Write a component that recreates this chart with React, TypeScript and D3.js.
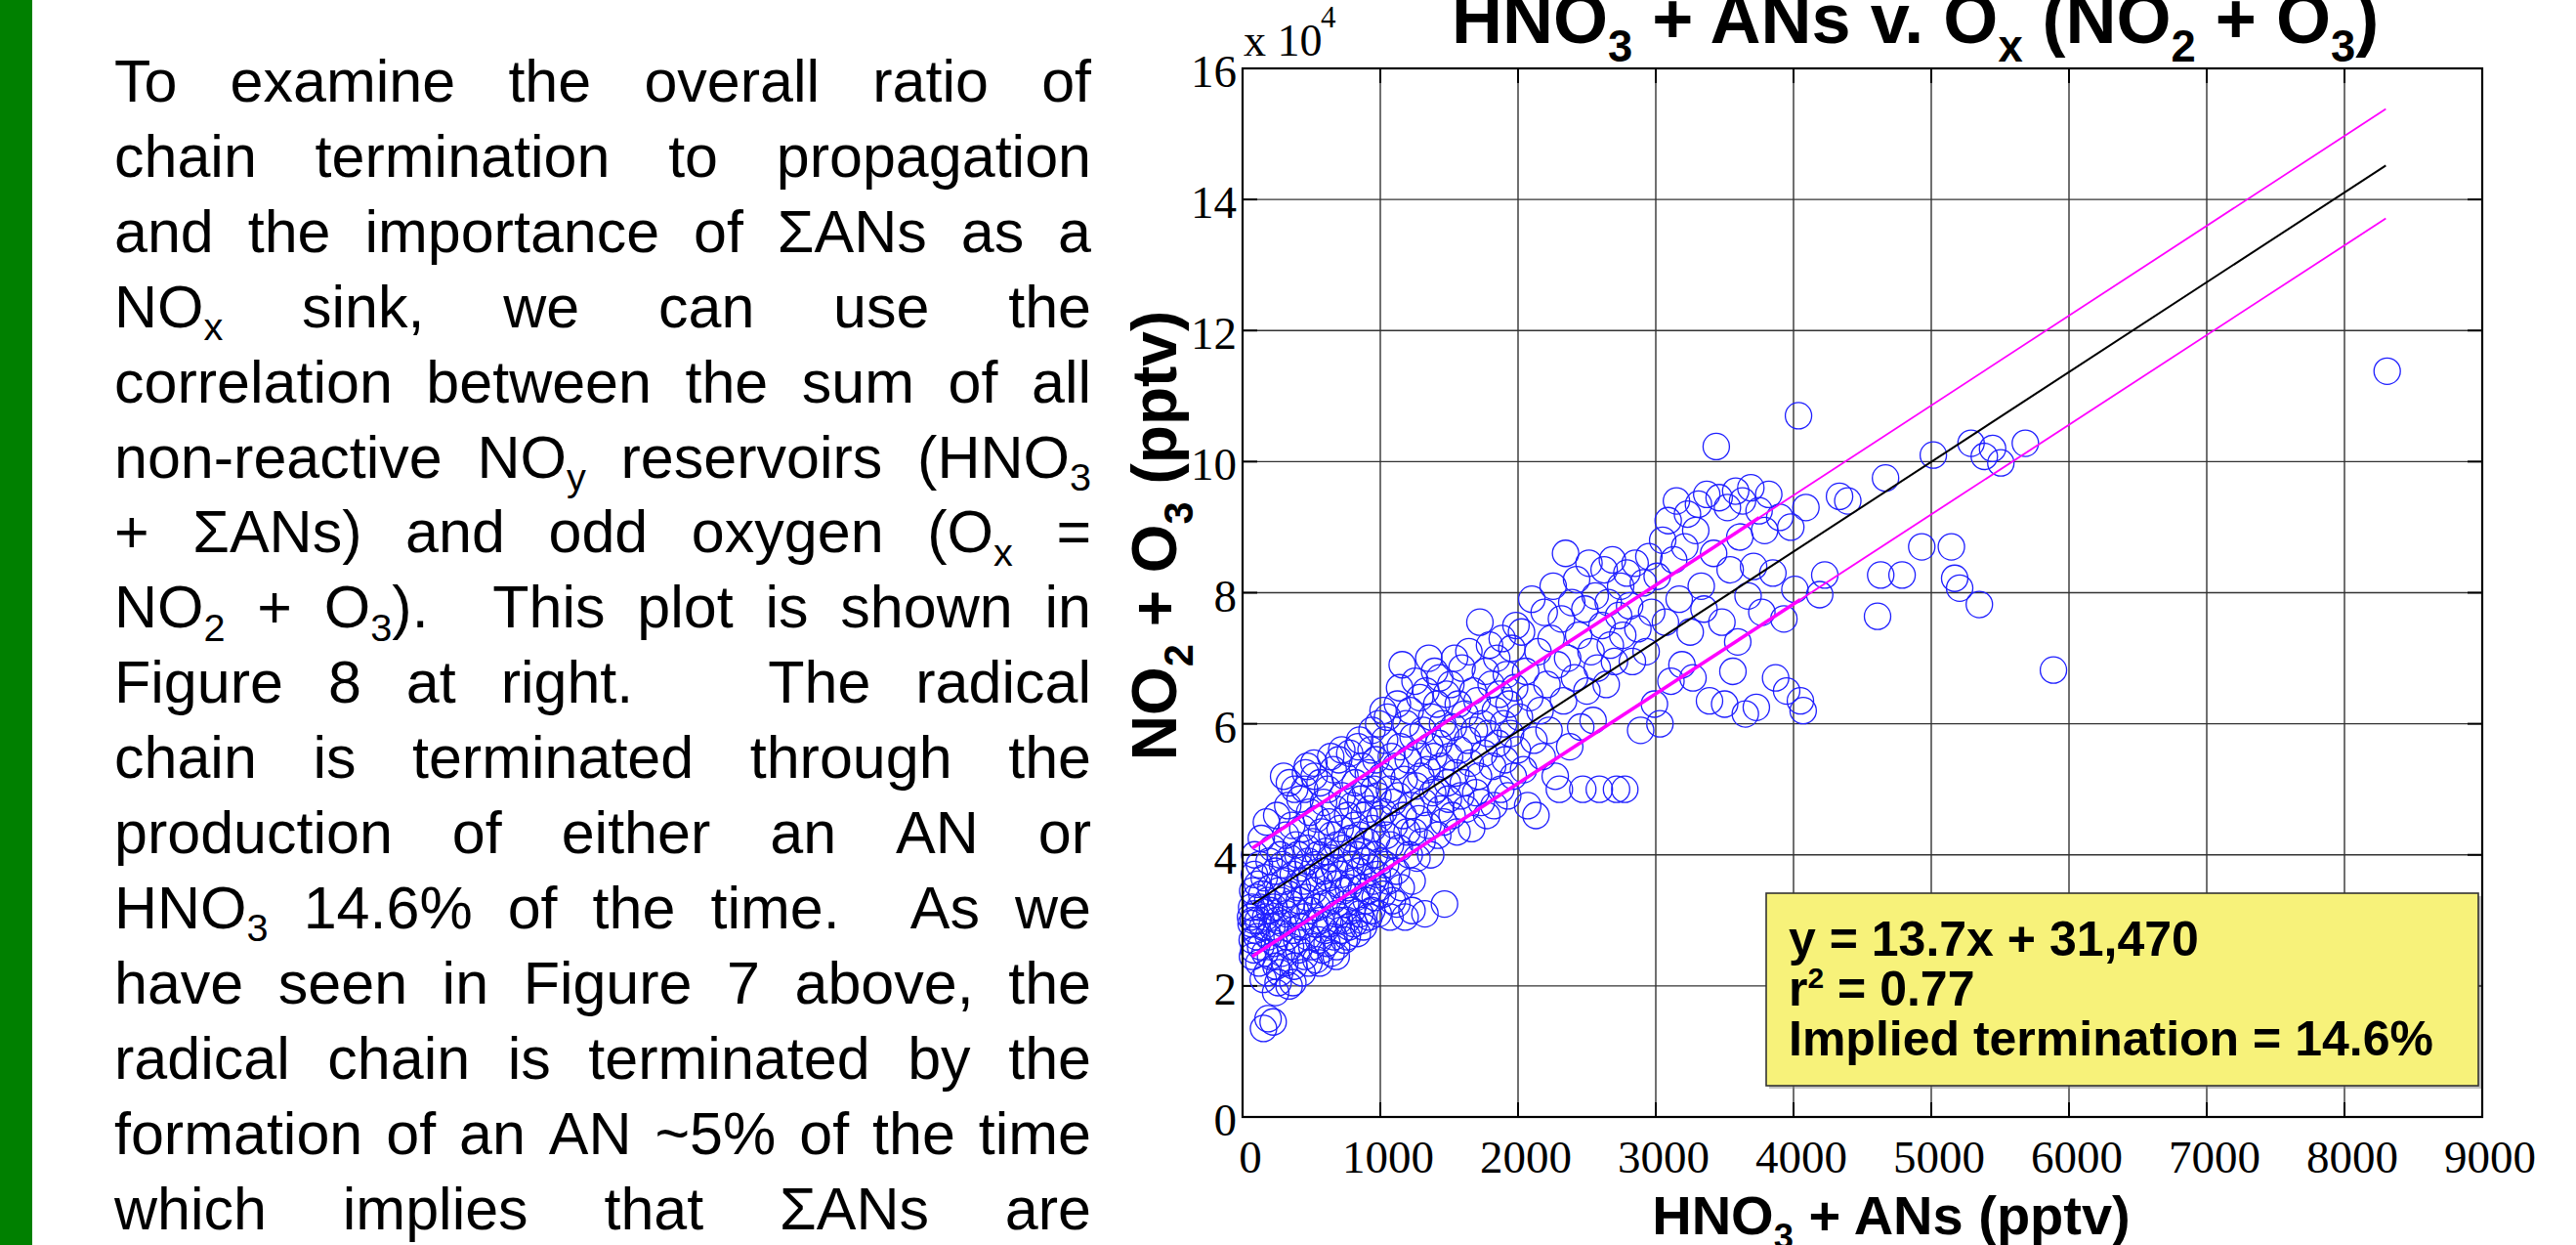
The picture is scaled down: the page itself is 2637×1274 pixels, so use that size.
import React from 'react';
import * as d3 from 'd3';

const W = 2637;
const H = 1274;

// ---------- data ----------
const xTicks = [0, 1000, 2000, 3000, 4000, 5000, 6000, 7000, 8000, 9000];
const yTicks = [0, 2, 4, 6, 8, 10, 12, 14, 16];
const xDomain = [0, 9000];
const yDomain = [0, 16]; // units of 10^4 pptv

const titleText = 'HNO_3 + ANs v. O_x (NO_2 + O_3)';
const xLabelText = 'HNO_3 + ANs (pptv)';
const yLabelText = 'NO_2 + O_3 (pptv)';
const annotationLines = ['y = 13.7x + 31,470', 'r^2 = 0.77', 'Implied termination = 14.6%'];

const paragraphLines = [
  'To examine the overall ratio of',
  'chain termination to propagation',
  'and the importance of ΣANs as a',
  'NO_x sink, we can use the',
  'correlation between the sum of all',
  'non-reactive NO_y reservoirs (HNO_3',
  '+ ΣANs) and odd oxygen (O_x =',
  'NO_2 + O_3).  This plot is shown in',
  'Figure 8 at right.   The radical',
  'chain is terminated through the',
  'production of either an AN or',
  'HNO_3 14.6% of the time.  As we',
  'have seen in Figure 7 above, the',
  'radical chain is terminated by the',
  'formation of an AN ~5% of the time',
  'which implies that ΣANs are',
];

// fit: y = 13.7x + 31470 (pptv)
const fitSlope = 13.7;
const fitIntercept = 31470;
const fitRange = [70, 8300];
const upperBand = [[70, 41000], [8300, 153800]];
const lowerBand = [[70, 24500], [8300, 137100]];
const bandThickEnd = [3750, 4050];

// observations: [HNO3+ANs (pptv), NO2+O3 (x10^4 pptv)]
const pointsLow: [number, number][] = [
  [62,2.95],[66,3.2],[70,2.7],[74,3.45],[78,3.0],[82,2.55],[86,3.7],[90,3.1],[94,2.85],[98,3.35],[58,3.05],[88,4.0],[72,2.45],
  [104,2.75],[108,3.55],[112,3.0],[118,2.35],[122,3.85],[126,3.2],[131,2.6],[136,4.25],[140,3.4],[146,2.9],[152,1.35],[157,3.65],[162,2.5],[168,3.05],[173,4.5],[178,2.2],[183,3.3],[188,2.75],[193,3.9],[197,3.15],[150,2.1],[185,1.5],
  [203,2.45],[207,3.5],[212,2.9],[218,4.1],[222,1.45],[227,3.2],[232,2.65],[238,3.75],[243,2.3],[248,4.6],[253,3.0],[258,2.05],[263,3.45],[268,2.8],[273,4.0],[278,3.3],[284,2.5],[289,3.85],[294,2.95],[298,5.2],[240,1.9],[270,2.2],
  [303,3.6],[308,2.35],[313,4.3],[318,3.1],[323,2.75],[328,4.75],[333,3.4],[338,2.0],[343,3.95],[348,2.6],[353,3.25],[358,4.45],[363,2.85],[368,3.7],[373,2.3],[378,5.0],[383,3.15],[388,4.15],[393,2.7],[398,3.5],[340,5.1],[365,2.05],
  [402,4.0],[407,2.55],[412,3.3],[417,4.85],[422,2.9],[427,3.8],[432,2.2],[437,4.4],[442,3.05],[447,3.6],[452,2.45],[457,5.25],[462,3.35],[467,4.1],[472,2.75],[477,3.9],[482,2.35],[487,4.65],[492,3.15],[497,3.65],[450,5.0],[470,5.35],
  [503,2.6],[508,4.2],[513,3.45],[518,5.4],[523,2.95],[528,3.85],[533,2.4],[538,4.55],[543,3.2],[548,4.0],[553,2.7],[558,3.6],[563,5.1],[568,3.0],[573,4.35],[578,2.55],[583,3.75],[588,4.8],[593,3.25],[598,2.85],[520,5.2],[560,2.35],
  [603,4.05],[608,3.4],[613,2.65],[618,5.0],[623,3.65],[628,4.5],[633,2.95],[638,3.95],[643,2.5],[648,4.3],[653,3.3],[658,5.3],[663,2.75],[668,3.8],[673,4.7],[678,3.1],[683,2.6],[688,4.15],[693,3.55],[698,5.45],[640,5.5],[680,2.45],
  [703,3.0],[708,4.4],[713,3.7],[718,2.85],[723,4.9],[728,3.45],[733,4.1],[738,2.7],[743,5.2],[748,3.25],[753,3.95],[758,3.0],[763,4.6],[768,3.5],[773,2.9],[778,5.55],[783,3.85],[788,4.25],[793,3.15],[798,4.75],[720,5.6],[760,2.75],
  [803,3.6],[808,2.95],[813,4.45],[818,5.1],[823,3.35],[828,4.0],[833,2.8],[838,5.65],[843,3.75],[848,4.3],[853,3.1],[858,4.85],[863,3.5],[868,5.35],[873,4.05],[878,2.9],[883,4.6],[888,3.9],[893,5.0],[898,3.3],[850,5.75],[870,3.0],
  [903,4.2],[908,3.45],[913,5.25],[918,3.05],[923,4.7],[928,3.8],[933,5.6],[938,3.15],[943,4.4],[948,3.6],[953,5.0],[958,4.0],[963,3.35],[968,5.45],[973,4.25],[978,3.7],[983,4.9],[988,6.0],[993,3.5],[998,4.55],[940,5.9],[985,3.1],
];

const pointsMid: [number, number][] = [
  [1003,3.9],[1010,5.2],[1017,3.4],[1024,4.65],[1031,5.75],[1038,3.85],[1045,4.3],[1052,6.1],[1059,3.6],[1066,5.0],[1073,4.15],[1080,5.5],[1087,3.3],[1094,4.8],[1020,6.2],[1070,3.05],
  [1103,4.45],[1110,5.35],[1117,3.75],[1124,6.3],[1131,4.9],[1138,4.1],[1145,5.65],[1152,3.5],[1159,6.9],[1166,4.6],[1173,5.15],[1180,3.05],[1187,6.0],[1194,4.35],[1140,6.55],[1120,3.25],
  [1203,5.45],[1210,4.0],[1217,6.2],[1224,4.75],[1231,3.6],[1238,5.8],[1245,4.35],[1252,6.65],[1259,5.05],[1266,3.95],[1273,5.55],[1280,4.55],[1287,6.4],[1294,5.2],[1230,3.15],
  [1303,4.2],[1310,5.9],[1317,4.8],[1324,3.1],[1331,6.5],[1338,5.3],[1345,4.45],[1352,7.0],[1359,5.65],[1366,4.0],[1373,6.1],[1380,4.95],[1387,5.5],[1394,6.8],
  [1403,5.0],[1410,6.3],[1417,4.3],[1424,5.7],[1431,6.7],[1438,4.7],[1445,5.35],[1452,6.0],[1459,4.5],[1466,3.25],[1473,5.85],[1480,6.45],[1487,5.1],[1494,4.85],
  [1503,5.5],[1512,6.6],[1521,4.6],[1530,5.95],[1539,7.0],[1548,5.25],[1557,4.35],[1566,6.3],[1575,5.6],[1584,4.9],[1593,6.85],
  [1603,5.1],[1613,6.15],[1623,4.7],[1633,5.75],[1643,7.1],[1653,5.4],[1663,4.4],[1673,6.5],[1683,5.9],[1693,4.95],
  [1703,6.35],[1713,5.2],[1723,7.55],[1733,4.8],[1743,6.0],[1753,5.55],[1763,6.8],[1773,4.6],[1783,5.85],[1793,7.2],
  [1805,6.6],[1815,5.35],[1825,4.75],[1835,6.2],[1845,7.0],[1855,5.7],[1865,6.45],[1875,5.0],[1885,7.3],[1895,6.0],
  [1905,5.45],[1915,6.75],[1925,4.9],[1935,6.3],[1945,5.85],[1955,7.15],[1965,5.2],[1975,6.55],[1985,7.5],[1995,5.6],
];

const pointsHigh: [number, number][] = [
  [2010,6.1],[2025,7.4],[2040,5.3],[2055,6.8],[2070,4.75],[2085,6.4],[2100,7.9],[2115,5.75],[2130,4.6],[2145,7.1],[2160,6.2],[2175,5.5],[2190,7.7],
  [2210,6.6],[2225,5.9],[2240,7.3],[2255,8.1],[2270,5.2],[2285,6.9],[2300,5.0],[2315,7.6],[2330,6.35],[2345,8.6],[2360,7.0],[2375,5.65],[2390,7.85],
  [2410,6.7],[2425,8.2],[2440,7.35],[2455,5.95],[2470,5.0],[2485,7.75],[2500,6.5],[2515,8.45],[2530,7.1],[2545,6.05],[2560,7.95],[2575,6.85],[2590,5.0],
  [2610,7.5],[2625,8.35],[2640,6.6],[2655,7.85],[2670,7.2],[2685,8.5],[2700,6.95],[2715,5.0],[2730,7.65],[2745,8.1],[2760,7.35],[2775,5.0],[2790,8.3],
  [2810,7.8],[2830,6.95],[2850,8.45],[2870,7.45],[2890,5.9],[2910,8.15],[2930,7.1],[2950,8.55],[2970,7.7],[2990,6.3],
  [3010,8.25],[3030,6.0],[3050,8.8],[3070,7.55],[3090,9.1],[3110,6.65],[3130,8.5],[3150,9.4],[3170,7.9],[3190,6.9],
  [3210,8.7],[3230,9.2],[3250,7.4],[3270,6.7],[3290,8.95],[3310,9.35],[3330,8.1],[3350,7.75],[3370,9.5],[3390,6.35],
  [3420,8.6],[3439,10.23],[3460,9.45],[3480,7.55],[3500,6.3],[3520,9.3],[3540,8.35],[3560,6.8],[3580,9.55],[3595,7.25],
  [3610,8.85],[3630,9.4],[3650,6.15],[3670,7.95],[3690,9.6],[3710,8.4],[3730,6.25],[3750,9.25],[3770,7.7],[3790,8.95],
  [3820,9.5],[3850,8.3],[3870,6.7],[3900,9.15],[3930,7.6],[3950,6.5],[3980,9.0],[4010,8.05],[4036,10.7],[4050,6.35],[4070,6.2],[4090,9.3],
];

const pointsOutlying: [number, number][] = [
  [4190,7.97],[4227,8.27],[4334,9.47],[4394,9.4],[4610,7.64],[4633,8.27],[4668,9.75],[4788,8.27],[4931,8.7],[5015,10.1],
  [5146,8.7],[5170,8.22],[5206,8.07],[5289,10.28],[5349,7.82],[5385,10.08],[5445,10.2],[5505,9.98],[5683,10.28],[5887,6.82],[8310,11.38],
];

// ---------- layout ----------
const plotLeft = 1272;
const plotRight = 2541;
const plotTop = 70;
const plotBottom = 1143;

const sansFont = '"Liberation Sans", Arial, Helvetica, sans-serif';
const serifFont = '"Liberation Serif", "Times New Roman", serif';

type Seg = { t: string; k: 'n' | 'sub' | 'sup' };

function parseRich(s: string): Seg[] {
  const segs: Seg[] = [];
  let cur = '';
  for (let i = 0; i < s.length; i++) {
    const c = s[i];
    if ((c === '_' || c === '^') && i + 1 < s.length) {
      if (cur) segs.push({ t: cur, k: 'n' });
      cur = '';
      segs.push({ t: s[i + 1], k: c === '_' ? 'sub' : 'sup' });
      i++;
    } else cur += c;
  }
  if (cur) segs.push({ t: cur, k: 'n' });
  return segs;
}

function RichTspans({ segs, size, subScale = 0.65, subOff = 0.3, supOff = 0.38 }: any) {
  const out: any[] = [];
  let shift = 0;
  segs.forEach((s: Seg, i: number) => {
    let target = 0;
    if (s.k === 'sub') target = size * subOff;
    if (s.k === 'sup') target = -size * supOff;
    const dy = target - shift;
    shift = target;
    out.push(
      <tspan key={i} dy={dy || undefined} fontSize={s.k === 'n' ? undefined : size * subScale}>
        {s.t}
      </tspan>
    );
  });
  return <>{out}</>;
}

let measureCtx: CanvasRenderingContext2D | null = null;
function measure(text: string, size: number, weight = 'normal', family = sansFont) {
  if (!measureCtx) measureCtx = document.createElement('canvas').getContext('2d');
  if (!measureCtx) return text.length * size * 0.5;
  measureCtx.font = `${weight} ${size}px ${family}`;
  return measureCtx.measureText(text).width;
}

function JustifiedParagraph() {
  const left = 117;
  const right = 1117;
  const size = 61;
  const firstBase = 104;
  const lineGap = 76.9;
  return (
    <g fontFamily={sansFont} fontSize={size} fill="#000">
      {paragraphLines.map((line, li) => {
        const tokens = line.split(' ');
        const words: { segs: Seg[]; w: number }[] = [];
        const weights: number[] = [];
        let pending = 0;
        tokens.forEach((tok) => {
          if (tok === '') {
            pending += 1;
            return;
          }
          const segs = parseRich(tok);
          const w = segs.reduce((a, s) => a + measure(s.t, s.k === 'n' ? size : size * 0.65), 0);
          if (words.length > 0) weights.push(1 + pending);
          pending = 0;
          words.push({ segs, w });
        });
        const total = words.reduce((a, w) => a + w.w, 0);
        const wsum = weights.reduce((a, b) => a + b, 0);
        const unit = wsum > 0 ? (right - left - total) / wsum : 0;
        let x = left;
        const y = firstBase + li * lineGap;
        return (
          <g key={li}>
            {words.map((w, wi) => {
              const el = (
                <text key={wi} x={x} y={y}>
                  <RichTspans segs={w.segs} size={size} subScale={0.65} subOff={0.22} />
                </text>
              );
              x += w.w + (wi < weights.length ? weights[wi] * unit : 0);
              return el;
            })}
          </g>
        );
      })}
    </g>
  );
}

export default function App() {
  const x = d3.scaleLinear().domain(xDomain).range([plotLeft, plotRight]);
  const y = d3.scaleLinear().domain(yDomain).range([plotBottom, plotTop]);

  const allPoints = [...pointsLow, ...pointsMid, ...pointsHigh, ...pointsOutlying];

  const line = d3
    .line<[number, number]>()
    .x((d) => x(d[0]))
    .y((d) => y(d[1] / 1e4));

  const fitPts: [number, number][] = fitRange.map((v) => [v, fitSlope * v + fitIntercept]);
  const interp = (band: number[][], xv: number): [number, number] => {
    const t = (xv - band[0][0]) / (band[1][0] - band[0][0]);
    return [xv, band[0][1] + t * (band[1][1] - band[0][1])];
  };
  const upperThick: [number, number][] = [upperBand[0] as [number, number], interp(upperBand, bandThickEnd[0])];
  const lowerThick: [number, number][] = [lowerBand[0] as [number, number], interp(lowerBand, bandThickEnd[1])];

  const tickLen = 15;

  return (
    <svg
      width={W}
      height={H}
      viewBox={`0 0 ${W} ${H}`}
      style={{ position: 'absolute', left: 0, top: 0, background: '#fff' }}
    >
      <rect x={0} y={0} width={W} height={H} fill="#fff" />
      {/* green side bar */}
      <rect x={0} y={0} width={33} height={H} fill="#008000" />

      <JustifiedParagraph />

      {/* grid */}
      <g stroke="#333" strokeWidth={1.4}>
        {xTicks
          .filter((t) => t > xDomain[0] && t < xDomain[1])
          .map((t) => (
            <line key={'gx' + t} x1={x(t)} x2={x(t)} y1={plotTop} y2={plotBottom} />
          ))}
        {yTicks
          .filter((t) => t > yDomain[0] && t < yDomain[1])
          .map((t) => (
            <line key={'gy' + t} y1={y(t)} y2={y(t)} x1={plotLeft} x2={plotRight} />
          ))}
      </g>
      {/* inward ticks */}
      <g stroke="#000" strokeWidth={2}>
        {xTicks.map((t) => (
          <g key={'tx' + t}>
            <line x1={x(t)} x2={x(t)} y1={plotBottom} y2={plotBottom - tickLen} />
            <line x1={x(t)} x2={x(t)} y1={plotTop} y2={plotTop + tickLen} />
          </g>
        ))}
        {yTicks.map((t) => (
          <g key={'ty' + t}>
            <line y1={y(t)} y2={y(t)} x1={plotLeft} x2={plotLeft + tickLen} />
            <line y1={y(t)} y2={y(t)} x1={plotRight} x2={plotRight - tickLen} />
          </g>
        ))}
      </g>

      {/* scatter */}
      <g fill="none" stroke="#1f1fff" strokeWidth={1.3}>
        {allPoints.map((p, i) => (
          <circle key={i} cx={x(p[0])} cy={y(p[1])} r={13.5} />
        ))}
      </g>

      {/* fit + bands */}
      <g fill="none">
        <path d={line(upperBand as [number, number][]) || ''} stroke="#ff00ff" strokeWidth={1.8} />
        <path d={line(lowerBand as [number, number][]) || ''} stroke="#ff00ff" strokeWidth={1.8} />
        <path d={line(upperThick) || ''} stroke="#ff00ff" strokeWidth={3.6} />
        <path d={line(lowerThick) || ''} stroke="#ff00ff" strokeWidth={3.6} />
        <path d={line(fitPts) || ''} stroke="#000" strokeWidth={2} />
      </g>

      {/* axes box */}
      <rect
        x={plotLeft}
        y={plotTop}
        width={plotRight - plotLeft}
        height={plotBottom - plotTop}
        fill="none"
        stroke="#000"
        strokeWidth={2.2}
      />

      {/* tick labels */}
      <g fontFamily={serifFont} fontSize={47} fill="#000">
        {xTicks.map((t) => (
          <text key={'lx' + t} x={x(t) + 8} y={1200} textAnchor="middle">
            {String(t)}
          </text>
        ))}
        {yTicks.map((t) => (
          <text key={'ly' + t} x={1266} y={y(t) + 19} textAnchor="end">
            {String(t)}
          </text>
        ))}
        <text x={1273} y={57} fontSize={46}>x 10</text>
        <text x={1352} y={28} fontSize={31}>4</text>
      </g>

      {/* title */}
      <text x={1486} y={44} fontFamily={sansFont} fontWeight="bold" fontSize={72} fill="#000">
        <RichTspans segs={parseRich(titleText)} size={72} subScale={0.63} subOff={0.27} />
      </text>

      {/* x label */}
      <text
        x={1936}
        y={1263}
        textAnchor="middle"
        fontFamily={sansFont}
        fontWeight="bold"
        fontSize={56}
        fill="#000"
      >
        <RichTspans segs={parseRich(xLabelText)} size={56} subScale={0.65} subOff={0.27} />
      </text>

      {/* y label */}
      <text
        transform={`translate(1204, 548) rotate(-90)`}
        textAnchor="middle"
        fontFamily={sansFont}
        fontWeight="bold"
        fontSize={64}
        fill="#000"
      >
        <RichTspans segs={parseRich(yLabelText)} size={64} subScale={0.65} subOff={0.27} />
      </text>

      {/* annotation box */}
      <rect x={1811} y={917} width={729} height={197} fill="#888" opacity={0.5} />
      <rect x={1808} y={914} width={729} height={197} fill="#f7f27a" stroke="#333" strokeWidth={1.6} />
      <g fontFamily={sansFont} fontWeight="bold" fontSize={50} fill="#000">
        {annotationLines.map((l, i) => (
          <text key={i} x={1831} y={978 + i * 51}>
            <RichTspans segs={parseRich(l)} size={50} subScale={0.6} supOff={0.36} />
          </text>
        ))}
      </g>
    </svg>
  );
}
